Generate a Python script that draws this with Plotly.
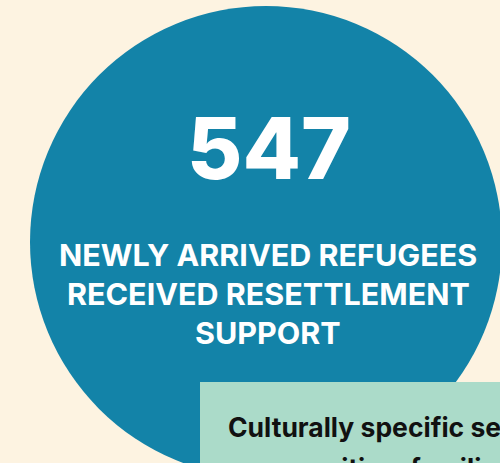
import plotly.graph_objects as go

# ---- data ----
stat_value = [547]
stat_label_lines = ["NEWLY ARRIVED REFUGEES", "RECEIVED RESETTLEMENT", "SUPPORT"]
note_lines = ["Culturally specific services", "communities, families"]

# ---- style ----
W, H = 500, 463
BG = "#FDF3E1"
TEAL = "#1383A8"
GREEN = "#ABDBC9"
FONT = "Inter"

fig = go.Figure()

cx, cy, r = 266, 242, 236
fig.add_shape(type="circle", xref="x", yref="y",
              x0=cx - r, x1=cx + r, y0=cy - r, y1=cy + r,
              fillcolor=TEAL, line=dict(width=0), layer="below")
fig.add_shape(type="rect", xref="x", yref="y",
              x0=200, x1=560, y0=382, y1=520,
              fillcolor=GREEN, line=dict(width=0), layer="below")

fig.add_annotation(x=269, y=148, xref="x", yref="y", text=stat_value[0],
                   showarrow=False, xanchor="center", yanchor="middle",
                   font=dict(family=FONT, size=85, color="white", weight=800))

line_y = [254, 293.5, 332]
for txt, yy in zip(stat_label_lines, line_y):
    fig.add_annotation(x=268, y=yy, xref="x", yref="y", text=txt,
                       showarrow=False, xanchor="center", yanchor="middle",
                       font=dict(family=FONT, size=30.5, color="white", weight=700))

note_y = [427, 462]
note_shift = [0, -6]
for txt, yy, sh in zip(note_lines, note_y, note_shift):
    fig.add_annotation(x=226, y=yy, xref="x", yref="y", text=txt, yshift=sh,
                       showarrow=False, xanchor="left", yanchor="middle",
                       font=dict(family=FONT, size=26.5, color="#111111", weight=700))

fig.update_xaxes(range=[0, W], visible=False, fixedrange=True)
fig.update_yaxes(range=[H, 0], visible=False, fixedrange=True)
fig.update_layout(width=W, height=H, margin=dict(l=0, r=0, t=0, b=0),
                  paper_bgcolor=BG, plot_bgcolor=BG, showlegend=False)

fig.write_html("out.html", config={"displayModeBar": False},
               post_script="document.body.style.margin='0';")
